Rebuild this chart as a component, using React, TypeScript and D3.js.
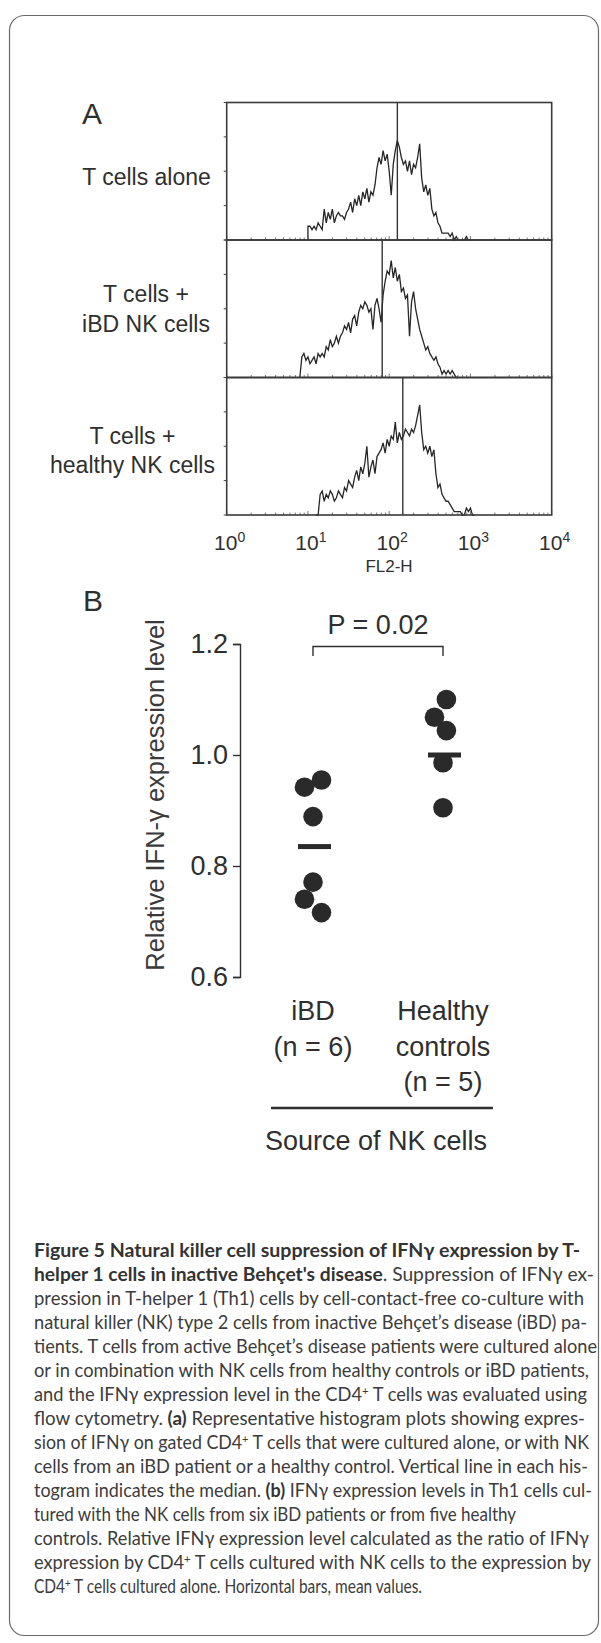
import React, { useEffect, useRef } from 'react';
import * as d3 from 'd3';

// ---- panel A: FL2-H (IFN-gamma) histograms, event counts per 0.025-decade channel
const channelWidth = 0.025;
const panelLabelLines = [['T cells alone'], ['T cells +', 'iBD NK cells'], ['T cells +', 'healthy NK cells']];
const firstChannel = [1.0, 0.9, 1.1]; // log10 FL2-H of channel 0
const aloneCounts = [
  4, 4, 3, 4, 3, 5, 4, 3,
  9, 5, 8, 6, 9, 5, 7, 8, 7, 7, 6, 8,
  9, 11, 8, 12, 10, 13, 10, 14, 12, 15, 11, 14, 13, 16,
  21, 24, 22, 26, 23, 25,
  20, 13, 22,
  26, 29, 27, 24,
  22, 23, 20, 23, 19, 22, 21, 24, 28,
  18, 14, 16, 13, 15,
  9, 7, 8, 5, 4,
  2, 2, 2, 2, 1,
  2, 0, 1,
  0, 0, 0, 0,
  1, 0,
];
const ibdNkCounts = [
  0, 6, 7, 5, 6, 4, 5, 6, 4, 7, 6,
  7, 6, 9, 8, 11, 9, 10, 12, 10,
  12, 13, 15, 14, 16, 13, 17, 18, 15,
  19, 21, 20, 22, 21, 19, 20, 14, 21, 23,
  20, 16, 24,
  28, 31, 30, 34, 29, 32, 28, 30,
  25, 26, 23, 24, 12, 22, 25, 20,
  17, 14, 12, 10, 8, 9, 7,
  6, 5, 6, 4, 3,
  1, 2, 1, 2, 1, 2, 1, 0,
];
const healthyNkCounts = [
  0, 0,
  6, 7, 4, 6, 5, 7, 6, 4, 5, 7, 6, 5,
  8, 7, 10, 9, 8,
  11, 13, 10, 14, 12, 15, 20,
  11, 14, 16, 12, 17, 18,
  19, 21, 18, 22, 20, 23, 22,
  27, 21, 24, 22,
  23, 25, 24, 23, 25, 24, 26, 29,
  32, 24,
  19, 20, 18, 20, 17, 19,
  12, 8, 9, 6,
  5, 4, 4, 3, 2, 1,
  1, 1, 1,
  0, 0, 2, 1, 2, 0,
];
const medianFL2 = [126, 82, 147];
const decadeTicks = [1, 10, 100, 1000, 10000];
const countTicks = [0, 10, 20, 30, 40];

// ---- panel B: relative IFN-gamma expression
const groups = ['iBD', 'Healthy controls'];
const groupLabelLines = [['iBD', '(n = 6)'], ['Healthy', 'controls', '(n = 5)']];
const ibdValues = [0.942, 0.955, 0.889, 0.771, 0.74, 0.716];
const healthyValues = [1.1, 1.068, 1.044, 0.986, 0.905];
const ibdDodge = [-1, 1, 0, 0, -1, 1];
const healthyDodge = [0.4, -1, 0.4, 0, 0];
const groupMeans = [0.835, 1.0];
const relTicks = [0.6, 0.8, 1.0, 1.2];
const pText = 'P = 0.02';

// ---- caption
type Run = [string, 'b' | 'r' | 's'];
const captionLines: Run[][] = [
  [['Figure 5 Natural killer cell suppression of IFNγ expression by T-', 'b']],
  [["helper 1 cells in inactive Behçet's disease", 'b'], ['. Suppression of IFNγ ex-', 'r']],
  [['pression in T-helper 1 (Th1) cells by cell-contact-free co-culture with', 'r']],
  [['natural killer (NK) type 2 cells from inactive Behçet’s disease (iBD) pa-', 'r']],
  [['tients. T cells from active Behçet’s disease patients were cultured alone', 'r']],
  [['or in combination with NK cells from healthy controls or iBD patients,', 'r']],
  [['and the IFNγ expression level in the CD4', 'r'], ['+', 's'], [' T cells was evaluated using', 'r']],
  [['flow cytometry. ', 'r'], ['(a)', 'b'], [' Representative histogram plots showing expres-', 'r']],
  [['sion of IFNγ on gated CD4', 'r'], ['+', 's'], [' T cells that were cultured alone, or with NK', 'r']],
  [['cells from an iBD patient or a healthy control. Vertical line in each his-', 'r']],
  [['togram indicates the median. ', 'r'], ['(b)', 'b'], [' IFNγ expression levels in Th1 cells cul-', 'r']],
  [['tured with the NK cells from six iBD patients or from five healthy', 'r']],
  [['controls. Relative IFNγ expression level calculated as the ratio of IFNγ', 'r']],
  [['expression by CD4', 'r'], ['+', 's'], [' T cells cultured with NK cells to the expression by', 'r']],
  [['CD4', 'r'], ['+', 's'], [' T cells cultured alone. Horizontal bars, mean values.', 'r']],
];
const captionRight = [580, 594, 584, 587, 597, 589, 587, 585, 589, 588, 592, 516, 589, 591, 422];

const W = 601;
const H = 1643;
const FONT = '"Liberation Sans", Arial, Helvetica, sans-serif';
const CAP_FONT = 'Lato, "Open Sans", sans-serif';
const INK = '#2f2f2f';

// layout
const panelTop = 102.5;
const panelH = 137.5;
const hx = d3.scaleLog().domain([1, 10000]).range([226.7, 551.7]);
const hy = d3.scaleLinear().domain([0, 40]).range([panelH, 0]);
const panelLabelPos = [
  { x: 146.5, y: 185 },
  { x: 146, y: 302 },
  { x: 132.5, y: 443.5 },
];

const by = d3.scaleLinear().domain([0.6, 1.2]).range([977, 644]);
const bx = d3.scalePoint<string>().domain(groups).range([313, 443]);
const dodgeStep = 8.5;
const dotR = 9.8;

const histLine = d3
  .line<[number, number]>()
  .x(d => hx(Math.pow(10, d[0])))
  .y(d => hy(d[1]));

function histPoints(counts: number[], start: number): [number, number][] {
  const pts: [number, number][] = [[start, 0]];
  counts.forEach((c, i) => pts.push([start + i * channelWidth, c]));
  pts.push([start + counts.length * channelWidth, 0]);
  return pts;
}

const App = () => {
  const axisRef = useRef<SVGGElement>(null);

  useEffect(() => {
    const g = d3.select(axisRef.current);
    g.call(
      d3.axisLeft(by)
        .tickValues(relTicks)
        .tickFormat(d3.format('.1f'))
        .tickSize(7)
        .tickPadding(5)
    );
    g.attr('font-size', null).attr('font-family', null);
    g.select('.domain').attr('stroke', INK).attr('stroke-width', 1.4);
    g.selectAll('.tick line').attr('stroke', INK).attr('stroke-width', 1.4);
    g.selectAll('.tick text')
      .attr('font-size', 27)
      .attr('font-family', FONT)
      .attr('fill', INK);
  }, []);

  const histograms = [aloneCounts, ibdNkCounts, healthyNkCounts];
  const minorTicks = hx.ticks();
  const dots = [
    ...ibdValues.map((v, i) => ({ g: groups[0], v, d: ibdDodge[i] })),
    ...healthyValues.map((v, i) => ({ g: groups[1], v, d: healthyDodge[i] })),
  ];

  return (
    <div style={{ position: 'absolute', left: 0, top: 0 }}>
      <svg width={W} height={H} style={{ display: 'block', background: '#fff' }}>
        <rect x={9.5} y={15.5} width={589} height={1620} rx={15} fill="none" stroke="#6a6a6a" strokeWidth={1.2} />

        {/* panel A */}
        <text x={82} y={124} fontFamily={FONT} fontSize={30} fill={INK}>A</text>
        {histograms.map((counts, p) => {
          const top = panelTop + p * panelH;
          const pos = panelLabelPos[p];
          return (
            <g key={p}>
              <text fontFamily={FONT} fontSize={23} fill={INK} textAnchor="middle">
                {panelLabelLines[p].map((t, j) => (
                  <tspan key={j} x={pos.x} y={pos.y + j * 29.5}>{t}</tspan>
                ))}
              </text>
              <g transform={`translate(0,${top})`}>
                <path d={histLine(histPoints(counts, firstChannel[p])) || ''} fill="none" stroke="#262626" strokeWidth={1.3} strokeLinejoin="miter" />
                <line x1={hx(medianFL2[p])} x2={hx(medianFL2[p])} y1={0} y2={panelH} stroke="#333" strokeWidth={1.4} />
                {countTicks.map(c => (
                  <line key={c} x1={hx.range()[0] - 3} x2={hx.range()[0]} y1={hy(c)} y2={hy(c)} stroke="#444" strokeWidth={1} />
                ))}
                {minorTicks.map((t, k) => (
                  <line key={k} x1={hx(t)} x2={hx(t)} y1={panelH} y2={panelH - (decadeTicks.includes(t) ? 4 : 2.5)} stroke="#555" strokeWidth={0.8} />
                ))}
                <rect x={hx.range()[0]} y={0} width={hx.range()[1] - hx.range()[0]} height={panelH} fill="none" stroke="#3a3a3a" strokeWidth={1.6} />
              </g>
            </g>
          );
        })}
        {decadeTicks.map((t, k) => (
          <text key={t} x={hx(t) + 3} y={550} textAnchor="middle" fontFamily={FONT} fontSize={21} fill={INK}>
            10<tspan fontSize={14} dy={-8}>{k}</tspan>
          </text>
        ))}
        <text x={389} y={572} textAnchor="middle" fontFamily={FONT} fontSize={17} fill={INK}>FL2-H</text>

        {/* panel B */}
        <text x={83} y={611} fontFamily={FONT} fontSize={30} fill={INK}>B</text>
        <text
          transform={`translate(164,795) rotate(-90)`}
          textAnchor="middle"
          fontFamily={FONT}
          fontSize={25.5}
          fill="#3a3a3a"
        >
          Relative IFN-γ expression level
        </text>
        <g ref={axisRef} transform={`translate(240,0)`} />

        <path
          d={`M${bx(groups[0])},${by(1.2) + 12}V${by(1.2) + 2.5}H${bx(groups[1])}V${by(1.2) + 12}`}
          fill="none"
          stroke={INK}
          strokeWidth={1.4}
        />
        <text x={((bx(groups[0]) as number) + (bx(groups[1]) as number)) / 2} y={634} textAnchor="middle" fontFamily={FONT} fontSize={27} fill={INK}>
          {pText}
        </text>

        {dots.map((d, i) => (
          <circle key={i} cx={(bx(d.g) as number) + d.d * dodgeStep} cy={by(d.v)} r={dotR} fill="#2a2a2a" />
        ))}
        {groups.map((g, i) => (
          <rect key={g} x={(bx(g) as number) - 15} y={by(groupMeans[i]) - 2.5} width={33} height={5} fill="#2a2a2a" />
        ))}

        {groups.map((g, i) => (
          <text key={g} textAnchor="middle" fontFamily={FONT} fontSize={27} fill={INK}>
            {groupLabelLines[i].map((t, j) => (
              <tspan key={j} x={bx(g)} y={1020 + j * 35.5}>{t}</tspan>
            ))}
          </text>
        ))}
        <line x1={271} x2={493} y1={1108} y2={1108} stroke={INK} strokeWidth={2.5} />
        <text x={376} y={1150} textAnchor="middle" fontFamily={FONT} fontSize={27} fill={INK}>Source of NK cells</text>

        {/* caption */}
        {captionLines.map((runs, i) => (
          <g key={i} transform={`translate(34,${1257 + i * 24}) scale(1,1.16)`}>
            <text
              x={0}
              y={0}
              fontFamily={CAP_FONT}
              fontSize={16}
              fill="#3c3c3c"
              textLength={captionRight[i] - 34}
              lengthAdjust="spacingAndGlyphs"
            >
              {runs.map(([t, k], j) =>
                k === 's' ? (
                  <tspan key={j} fontSize={10} dy={-5}>{t}</tspan>
                ) : (
                  <tspan key={j} fontWeight={k === 'b' ? 700 : 400} fill={k === 'b' ? '#333' : '#3c3c3c'} dy={j > 0 && runs[j - 1][1] === 's' ? 5 : 0}>
                    {t}
                  </tspan>
                )
              )}
            </text>
          </g>
        ))}
      </svg>
    </div>
  );
};

export default App;
